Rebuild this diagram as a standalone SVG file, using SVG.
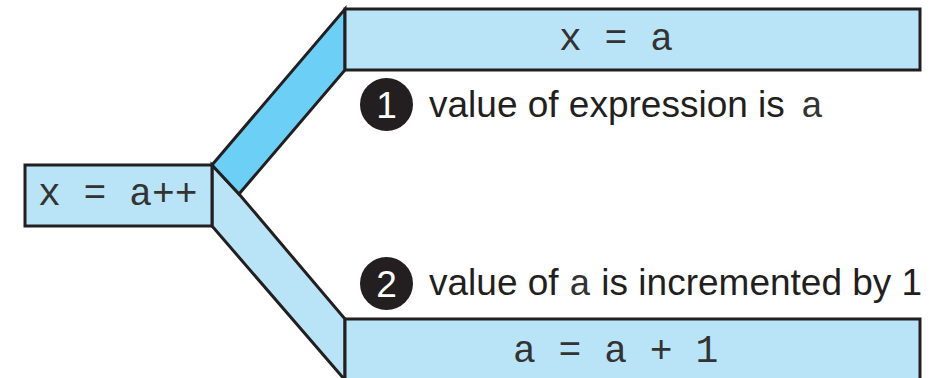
<svg xmlns="http://www.w3.org/2000/svg" width="940" height="378" viewBox="0 0 940 378">
<style>
.box{fill:#B9E4F8;stroke:#231F20;stroke-width:3}
.band{stroke:#231F20;stroke-width:3;stroke-linejoin:miter}
.code{font-family:"Liberation Mono","Courier New",monospace;font-size:38px;fill:#333}
.lbl{font-family:"Liberation Sans",Arial,sans-serif;font-size:37px;fill:#231F20}
.lblc{font-family:"Liberation Mono","Courier New",monospace;font-size:37px;fill:#333}
.num{font-family:"Liberation Sans",Arial,sans-serif;font-size:37px;fill:#fff;text-anchor:middle}
</style>
<g id="connectors">
<polygon class="band" fill="#B9E4F8" points="212,165 239,194 345,319 345,380 212,226"/>
<polygon class="band" fill="#6CCFF5" points="212,165 345,9 345,70 239,194"/>
</g>
<g id="node-x-eq-a-pp">
<rect class="box" x="25" y="165" width="187" height="61"/>
<text class="code" x="38" y="205" xml:space="preserve">x = a++</text>
</g>
<g id="node-x-eq-a">
<rect class="box" x="345" y="9" width="575" height="61"/>
<text class="code" x="559" y="50" xml:space="preserve">x = a</text>
</g>
<g id="node-a-eq-a-plus-1">
<rect class="box" x="345" y="319" width="575" height="70"/>
<text class="code" x="513" y="362" xml:space="preserve">a = a + 1</text>
</g>
<g id="label-1">
<circle cx="386.5" cy="104.5" r="26.5" fill="#231F20"/>
<text class="num" x="386.5" y="117.5">1</text>
<text class="lbl" x="429" y="117">value of expression is <tspan class="lblc" dx="6">a</tspan></text>
</g>
<g id="label-2">
<circle cx="386.5" cy="283.5" r="26.5" fill="#231F20"/>
<text class="num" x="386.5" y="296.5">2</text>
<text class="lbl" x="429" y="295">value of <tspan class="lblc">a</tspan> is incremented by 1</text>
</g>
</svg>
